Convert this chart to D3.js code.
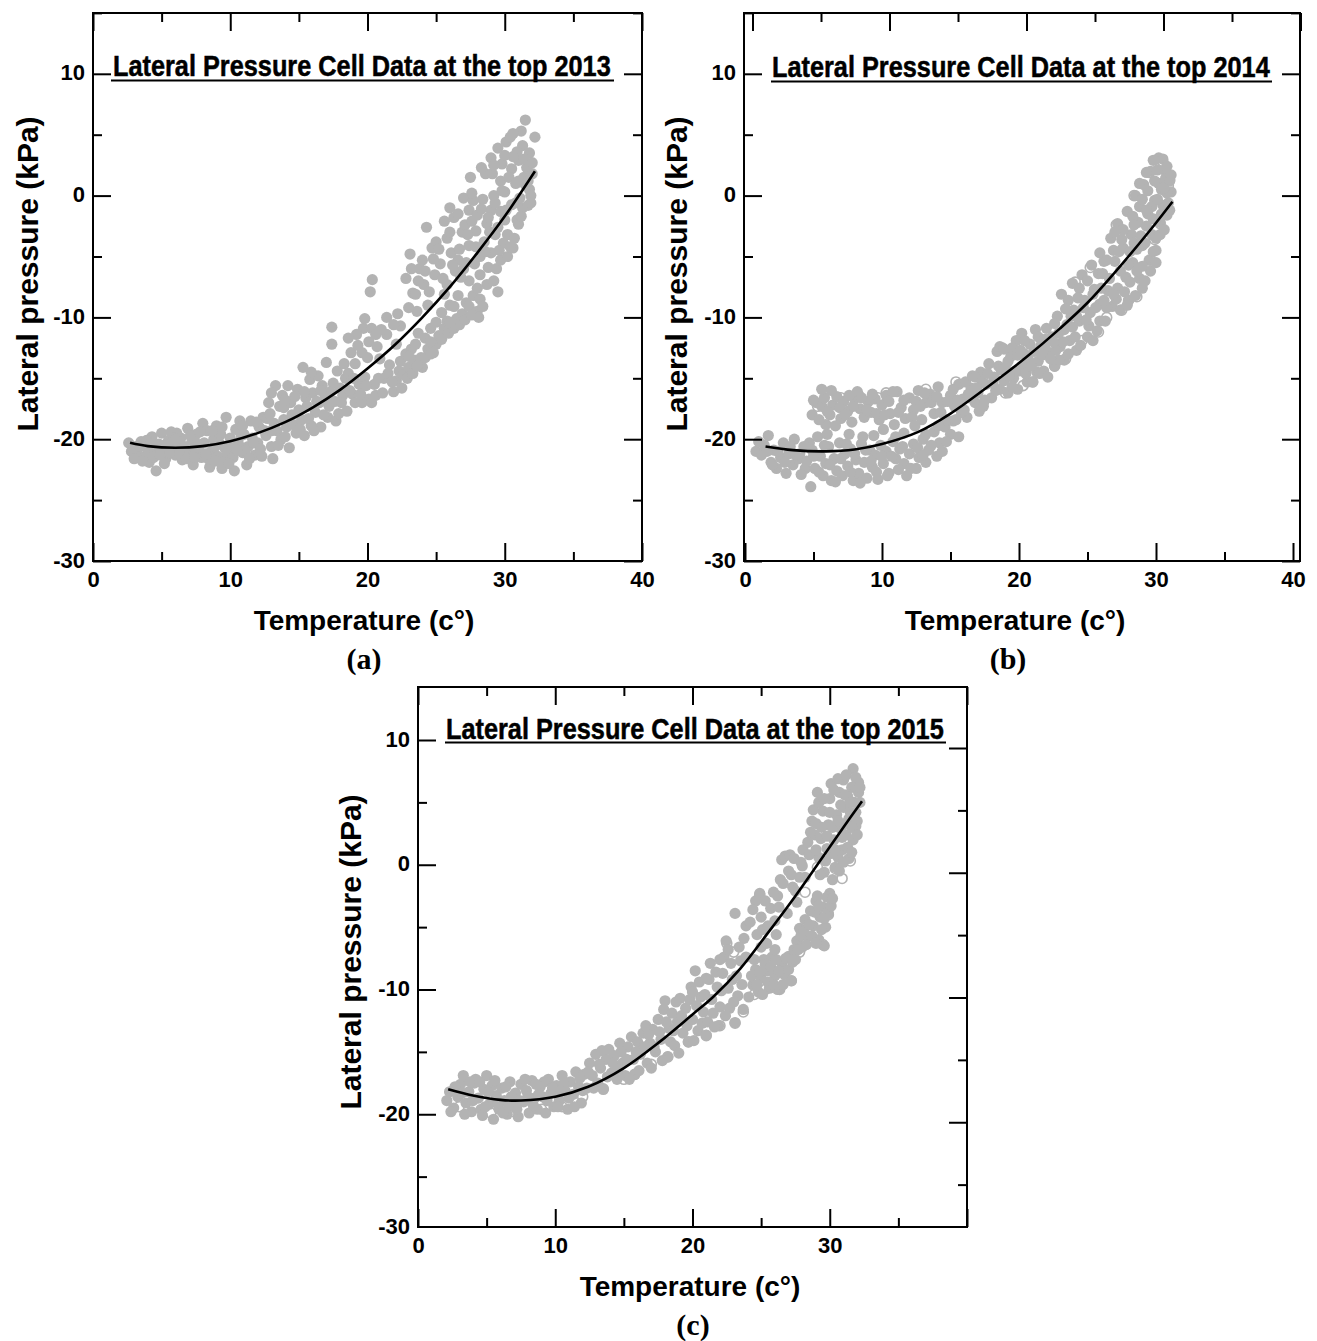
<!DOCTYPE html>
<html><head><meta charset="utf-8">
<script src="https://cdn.jsdelivr.net/npm/d3@7"></script>
<style>
body{margin:0;background:#fff;}
svg{display:block;}
</style></head><body>
<svg id="fig" width="1317" height="1341"></svg>
<script>
// Lateral pressure at the top pressure cell plotted against temperature, 2013–2015.

const xMajor = [0, 10, 20, 30, 40];
const xMinor = [5, 15, 25, 35];
const yMajor = [10, 0, -10, -20, -30];
const yMinor = [15, 5, -5, -15, -25];
const xLabels2013 = [0, 10, 20, 30, 40];
const xLabels2014 = [0, 10, 20, 30, 40];
const xLabels2015 = [0, 10, 20, 30];

const titles = ["Lateral Pressure Cell Data at the top 2013",
                "Lateral Pressure Cell Data at the top 2014",
                "Lateral Pressure Cell Data at the top 2015"];
const panelTags = ["(a)", "(b)", "(c)"];
const xTitle = "Temperature (c°)";
const yTitle = "Lateral pressure (kPa)";

// [temperature °C, lateral pressure kPa]
const pts2013 = [
[2.6,-20.3],[2.8,-21.0],[3.1,-20.6],[3.3,-21.3],[3.5,-20.2],[3.8,-21.4],[4.0,-20.8],[4.1,-21.9],[4.3,-19.8],[4.5,-21.1],
[4.6,-22.6],[4.8,-20.4],[5.0,-19.5],[5.1,-20.9],[5.3,-21.6],[5.5,-20.1],[5.7,-19.4],[5.8,-20.8],[6.0,-21.3],[6.2,-20.4],
[6.4,-19.9],[6.5,-21.7],[6.7,-20.6],[6.9,-19.1],[7.0,-21.1],[7.2,-20.2],[7.3,-22.1],[7.5,-19.6],[7.7,-20.9],[7.9,-21.5],
[8.0,-18.7],[8.1,-20.3],[8.3,-19.3],[8.5,-22.3],[8.6,-21.0],[8.8,-20.0],[9.0,-18.9],[9.1,-21.4],[9.3,-19.6],[9.4,-22.4],
[9.6,-20.7],[9.7,-18.2],[9.8,-21.2],[10.0,-19.9],[10.2,-21.5],[10.3,-22.6],[10.4,-19.2],[10.6,-20.4],[10.7,-18.5],[10.9,-21.1],
[11.0,-19.6],[11.2,-22.1],[11.3,-20.6],[11.5,-18.5],[11.6,-19.9],[11.8,-21.3],[12.0,-20.3],[12.1,-19.0],[12.3,-21.4],[12.4,-18.2],
[3.9,-20.1],[5.4,-20.5],[6.6,-21.0],[7.6,-20.4],[8.4,-21.6],[9.5,-21.9],[10.1,-20.6],[11.1,-20.9],[6.1,-19.5],[4.6,-20.5],
[3.0,-21.6],[3.4,-20.6],[3.6,-21.8],[4.2,-20.4],[4.4,-21.5],[4.9,-21.3],[5.2,-22.0],[5.6,-21.1],[5.9,-19.9],[6.3,-21.2],
[6.8,-21.6],[7.1,-19.7],[7.4,-20.7],[7.8,-19.4],[8.2,-21.2],[8.7,-19.3],[8.9,-21.8],[9.2,-20.3],[9.9,-22.0],[10.5,-20.9],
[10.8,-19.7],[11.4,-21.6],[11.7,-20.3],[12.2,-20.8],[12.5,-19.3],[6.0,-20.0],[8.9,-20.6],[7.4,-21.5],[9.4,-19.0],[10.9,-18.9],
[11.9,-18.6],
[12.6,-19.7],[12.8,-17.0],[13.0,-20.6],[13.1,-21.6],[13.2,-18.7],[13.4,-19.3],[13.6,-17.3],[13.7,-20.0],[13.9,-18.4],[14.1,-19.0],
[14.2,-15.6],[14.3,-20.7],[14.4,-17.0],[14.6,-18.8],[14.8,-19.5],[14.9,-15.9],[15.0,-17.6],[15.2,-18.4],[15.3,-14.1],[15.4,-19.7],
[15.5,-16.6],[15.6,-17.3],[15.8,-15.1],[15.9,-18.9],[16.0,-16.2],[16.2,-17.8],[16.4,-14.8],[16.5,-17.0],[16.6,-19.0],[16.7,-15.6],
[16.9,-16.6],[17.0,-13.7],[17.1,-18.2],[17.2,-17.3],[17.4,-10.8],[17.4,-12.2],[17.5,-15.4],[17.6,-16.9],[13.3,-15.6],[13.8,-16.4],
[12.7,-18.3],[13.0,-19.3],[13.5,-20.5],[13.9,-17.4],[14.0,-19.8],[14.5,-18.0],[14.7,-16.5],[15.1,-19.2],[15.4,-16.1],[15.7,-18.3],
[16.1,-19.3],[16.3,-16.9],[16.8,-18.0],[17.3,-16.1],[17.7,-18.5],[15.9,-14.5],[16.6,-16.0],[13.0,-16.2],[14.0,-16.8],[12.9,-17.9],
[17.8,-14.4],[17.9,-17.9],[18.0,-15.8],[18.2,-16.4],[18.3,-13.8],[18.4,-15.0],[18.5,-17.7],[18.6,-14.6],[18.8,-12.9],[18.9,-16.3],
[19.1,-17.0],[19.1,-13.8],[19.3,-12.3],[19.4,-15.5],[19.6,-17.0],[19.6,-12.9],[19.7,-10.9],[19.8,-10.1],[19.8,-14.9],[20.1,-16.7],
[20.1,-12.0],[20.2,-7.9],[20.35,-6.9],[20.3,-10.9],[20.5,-15.5],[20.6,-16.4],[20.6,-11.4],[20.9,-13.4],[21.2,-15.0],[21.4,-11.4],
[21.4,-10.0],[21.6,-13.9],[21.9,-16.1],[22.1,-15.2],[22.2,-9.7],[22.3,-14.4],[22.4,-10.7],[22.4,-13.6],
[18.1,-17.0],[18.7,-16.0],[19.0,-15.0],[19.5,-16.3],[19.9,-15.6],[20.3,-17.0],[20.8,-15.0],[21.1,-16.2],[21.5,-14.6],[21.8,-15.3],
[19.2,-11.4],[20.7,-12.4],[21.0,-11.0],[21.9,-10.6],[18.6,-11.7],[20.0,-13.3],[22.1,-12.2],
[22.6,-14.7],[22.8,-13.0],[23.0,-14.1],[23.2,-12.6],[23.4,-13.5],[23.5,-12.2],[23.7,-11.3],[23.9,-13.3],[24.0,-14.1],[24.2,-11.7],
[24.4,-12.6],[24.6,-10.9],[24.8,-12.9],[25.0,-10.4],[25.2,-11.5],[25.4,-9.6],[25.6,-10.9],[25.8,-10.3],[26.0,-9.0],[26.3,-9.1],
[26.5,-10.1],[26.9,-9.7],[27.2,-8.8],[27.4,-9.1],[27.7,-8.2],[28.0,-9.5],[28.2,-8.5],[28.4,-9.1],
[22.5,-15.8],[22.9,-15.0],[23.3,-14.6],[23.6,-14.0],[24.2,-13.3],[24.6,-13.0],[25.0,-12.2],[25.4,-11.8],[25.9,-11.3],[26.3,-10.9],
[26.7,-10.6],[27.1,-10.2],[27.6,-9.8],[28.1,-10.0],[26.0,-10.4],[24.6,-12.0],[23.0,-13.2],
[22.8,-6.8],[23.1,-4.8],[23.3,-8.0],[23.5,-8.1],[23.6,-9.5],[23.8,-6.0],[24.0,-5.3],[24.1,-7.3],[24.3,-2.6],[24.5,-7.9],
[24.7,-4.3],[24.9,-6.5],[25.0,-3.8],[25.3,-5.6],[25.6,-2.1],[25.8,-3.5],[25.8,-7.3],[26.1,-4.7],[26.3,-1.8],[26.4,-6.2],
[26.6,-5.3],[26.6,-8.2],[26.9,-3.0],[27.0,-0.2],[27.1,-2.4],[27.4,-4.1],[27.4,-7.0],[27.5,1.5],[27.4,-1.2],[27.8,-5.6],
[27.9,-2.9],[28.0,-1.6],[28.2,-5.0],[28.2,-6.5],[28.4,-0.3],[28.5,-3.8],[28.6,1.8],[28.7,-2.3],[28.7,-7.3],[29.0,3.1],
[29.0,-1.2],[29.0,-4.7],[29.2,0.0],[29.2,-7.0],[29.4,-6.0],[29.5,3.9],[29.5,-2.6],[29.5,-7.9],[29.7,1.2],[29.7,-1.3],
[29.7,-5.3],[29.9,-3.9],[30.0,0.3],[30.1,4.4],[30.2,-3.2],[30.2,-5.0],[30.4,4.8],[30.5,-0.75],[30.5,2.2],[30.6,-4.3],
[30.8,-0.6],[30.9,-2.0],[31.0,2.9],[31.0,1.2],[31.0,-2.35],[31.2,5.3],[31.3,-1.0],[31.3,4.1],[31.4,1.5],[31.5,0.9],
[31.5,6.2],[31.6,2.3],[31.7,-0.8],[31.8,3.5],[31.8,0.5],[31.9,0.0],[32.2,4.8],[32.0,1.8],[30.0,-2.0],[29.3,-3.2],
[28.8,-5.9],[28.0,-7.6],[26.8,-6.7],[30.7,-3.5],[31.2,-1.7],[27.6,-2.1],[29.8,2.6],[30.9,3.6],[30.6,5.1],[26.6,-1.5],
[23.2,-6.0],[23.7,-7.0],[24.2,-6.2],[24.8,-5.2],[25.2,-4.4],[25.5,-6.8],[26.0,-3.0],[26.2,-5.7],[26.7,-4.4],[27.0,-6.0],
[27.3,-3.2],[27.7,-0.4],[27.9,-4.2],[28.3,-1.1],[28.6,-4.6],[28.9,-3.0],[29.1,1.8],[29.3,-0.6],[29.6,-4.5],[29.8,0.4],
[30.1,-1.2],[30.3,1.5],[30.4,-4.2],[30.6,3.2],[30.8,1.0],[31.1,-0.2],[31.4,3.0],[31.7,1.2],[32.0,2.7],[31.9,-0.6],
[30.0,3.3],[29.2,2.5],[28.3,2.3],[28.8,-1.8],[27.2,-5.5],[25.6,-8.1],[24.4,-9.0],[23.0,-9.2],[26.0,-1.0],[27.6,0.2]
];
const fit2013 = [[2.7,-20.3],[4,-20.57],[6,-20.7],[8,-20.57],[10,-20.17],[12,-19.5],[14,-18.6],[16,-17.4],
[18,-15.95],[20,-14.2],[22,-12.25],[24,-10.0],[26,-7.5],[28,-4.7],[30,-1.7],[32.2,2.0]];

const pts2014 = [
[0.8,-21.0],[1.2,-21.3],[1.4,-20.5],[1.7,-19.7],[1.9,-21.9],[2.1,-20.9],[2.3,-22.4],[2.6,-21.5],[2.8,-20.3],[3.0,-22.8],
[3.2,-21.2],[3.5,-22.1],[3.6,-20.0],[3.9,-21.6],
[1.0,-20.2],[1.6,-21.0],[2.0,-22.1],[2.4,-21.0],[2.9,-21.9],[3.3,-20.6],[3.7,-21.3],[4.0,-21.2],[4.4,-22.4],[4.7,-20.3],
[4.1,-22.9],[4.3,-20.6],[4.5,-21.8],[4.8,-23.9],[4.9,-20.9],[5.1,-22.4],[5.3,-19.8],[5.5,-21.4],[5.7,-23.0],[5.9,-22.0],
[6.1,-20.6],[6.3,-23.4],[6.5,-21.6],[6.7,-22.6],[6.9,-20.3],[7.1,-23.0],[7.3,-21.2],[7.5,-22.2],[7.7,-20.8],[7.9,-23.4],
[8.1,-21.7],[8.3,-22.8],[8.5,-20.4],[8.7,-21.9],[8.9,-23.2],[9.1,-20.9],[9.3,-22.3],[9.5,-21.3],[9.7,-23.3],[9.9,-20.5],
[10.1,-22.0],[10.3,-21.0],[10.5,-22.8],[10.8,-20.2],[11.0,-21.6],[11.3,-20.8],[11.6,-22.0],[12.0,-21.2],[12.3,-20.4],[12.7,-21.5],
[13.0,-20.0],[13.4,-20.9],[13.8,-19.4],[14.2,-20.3],[14.6,-19.0],[15.0,-19.6],[15.2,-18.5],
[12.5,-22.4],[11.8,-23.0],[13.2,-21.9],[14.0,-21.4],[14.7,-20.2],
[5.0,-21.4],[5.4,-22.7],[5.8,-20.5],[6.2,-22.1],[6.6,-23.5],[7.0,-21.6],[7.4,-20.4],[7.7,-22.7],[8.0,-21.2],[8.4,-23.6],
[8.8,-20.9],[9.2,-21.8],[9.6,-22.7],[10.0,-21.4],[10.4,-23.0],[10.7,-21.4],[11.2,-22.5],[11.5,-20.6],[12.1,-22.4],[12.6,-20.7],
[13.0,-21.3],[13.6,-20.5],[14.4,-21.0],[8.6,-19.8],[7.6,-19.6],[6.0,-19.6],[11.0,-19.8],[9.4,-19.7],
[4.9,-18.0],[5.2,-17.0],[5.6,-17.3],[5.9,-18.8],[6.2,-18.0],[6.4,-17.2],[6.7,-16.5],[7.0,-18.3],[7.2,-16.9],[7.5,-17.7],
[7.8,-18.6],[8.0,-16.7],[8.2,-16.1],[8.4,-17.5],[8.7,-18.2],[9.0,-16.9],[9.2,-17.8],[9.5,-16.7],[9.8,-18.4],[10.0,-17.2],
[10.3,-16.4],[10.6,-17.9],[10.9,-18.8],[11.1,-16.1],[11.4,-17.4],[11.7,-18.3],[12.0,-16.6],[12.3,-17.6],[12.65,-16.0],[12.9,-18.4],
[13.2,-17.0],[13.5,-16.3],[13.8,-17.9],[14.1,-15.7],[14.4,-17.0],[14.7,-18.4],[15.0,-16.4],[15.3,-17.3],[15.6,-15.5],[15.9,-16.7],
[16.2,-18.2],[16.5,-15.8],[16.8,-17.0],
[5.0,-16.8],[5.4,-18.4],[5.8,-16.6],[6.0,-17.7],[6.6,-18.9],[6.9,-17.4],[7.3,-18.0],[7.6,-16.4],[7.9,-17.3],[8.5,-16.6],
[8.9,-17.6],[9.3,-16.3],[9.6,-17.9],[10.2,-18.0],[10.5,-16.9],[10.8,-16.1],[11.2,-17.8],[11.6,-16.8],[12.2,-18.2],[12.5,-16.9],
[12.8,-17.3],[13.1,-16.2],[13.6,-17.0],[14.0,-16.5],[14.3,-17.8],[14.8,-16.9],[15.2,-15.9],[15.5,-16.8],[15.8,-17.8],[16.1,-15.3],
[16.7,-16.4],[5.6,-15.9],[6.3,-16.0],
[10.1,-19.2],[11.6,-19.5],[12.4,-18.9],[13.2,-19.6],[14.1,-18.9],[15.4,-18.4],[15.6,-19.8],
[17.0,-16.2],[17.2,-14.5],[17.4,-17.3],[17.6,-15.5],[17.8,-13.8],[18.0,-16.6],[18.2,-14.9],[18.4,-12.8],[18.6,-15.9],[18.8,-12.5],
[19.0,-14.1],[19.2,-16.2],[19.4,-13.2],[19.6,-15.0],[19.8,-11.9],[20.0,-14.4],[20.2,-11.3],[20.4,-13.0],[20.6,-15.3],[20.8,-12.2],
[16.4,-16.6],[16.6,-14.8],[18.6,-12.4],[18.9,-12.6],
[16.0,-17.6],[16.8,-14.9],[17.1,-17.7],[17.3,-15.3],[17.7,-14.6],[18.3,-16.0],[18.5,-14.0],[18.9,-15.2],[19.2,-13.6],[19.7,-14.4],
[19.9,-15.9],[20.3,-14.0],[20.7,-13.5],[21.3,-14.5],[20.4,-11.9],[19.5,-12.5],
[21.0,-15.3],[21.2,-11.0],[21.4,-13.6],[21.6,-12.3],[21.8,-14.4],[22.0,-10.9],[22.2,-12.9],[22.4,-11.6],[22.6,-14.0],[22.8,-9.9],
[23.0,-12.4],[23.1,-8.1],[23.3,-13.5],[23.5,-10.6],[23.7,-11.9],[23.9,-7.2],[24.0,-9.4],[24.2,-12.7],[24.4,-10.3],[24.6,-6.5],
[24.8,-8.6],[25.0,-11.6],[25.2,-9.6],[25.3,-5.7],[25.5,-7.7],[25.7,-11.1],[25.9,-4.7],[25.9,-8.9],
[21.5,-14.6],[21.9,-12.5],[22.1,-14.9],[22.7,-12.7],[22.9,-13.5],[23.2,-12.0],[23.6,-13.0],[23.8,-9.9],[24.1,-11.6],[24.5,-12.3],
[24.7,-9.2],[25.1,-10.7],[25.4,-11.9],[25.6,-9.2],[25.8,-6.4],[24.4,-7.6],[23.6,-8.6],[22.6,-10.5],[21.4,-11.6],[25.9,-10.3],
[26.1,-6.4],[26.3,-10.3],[26.5,-7.8],[26.7,-3.5],[26.8,-9.1],[27.0,-5.4],[27.2,-2.3],[27.2,-7.6],[27.4,-9.4],[27.6,-4.3],
[27.8,-6.7],[27.9,-1.3],[28.0,-8.6],[28.2,-3.2],[28.3,-5.5],[28.5,0.0],[28.5,-8.2],[28.7,-2.2],[28.8,-6.8],[29.0,-4.1],
[29.1,0.9],[29.2,-7.0],[29.4,-1.5],[29.5,-5.3],[29.6,2.0],[29.7,-3.2],[29.9,-0.4],[30.0,-4.5],[30.0,-3.5],[30.2,3.1],
[30.2,1.0],[30.3,-2.2],[30.5,-0.8],[30.6,2.1],[30.7,1.4],[30.8,-1.6],[30.9,-0.6],[31.0,1.2],[31.1,0.3],[30.4,-1.5],
[29.3,-2.5],[29.8,2.9],[30.5,3.0],[29.3,1.9],[28.8,1.0],
[26.2,-5.4],[26.4,-9.2],[26.6,-6.8],[26.9,-4.5],[27.1,-8.5],[27.4,-6.2],[27.6,-2.8],[27.9,-9.0],[28.1,-7.1],[28.3,-1.7],
[28.6,-4.4],[28.8,-0.9],[29.0,-7.6],[29.2,-3.9],[29.4,0.4],[29.6,-6.2],[29.7,-0.9],[29.9,1.2],[30.0,-5.5],[30.1,2.1],
[30.3,-3.2],[30.4,0.5],[30.6,-2.8],[30.8,0.2],[31.0,-1.2],[31.1,1.7],[30.8,2.4],[28.0,-5.7],[28.4,-3.9],[27.0,-3.0],
[29.0,-0.3],[29.8,-4.6],
[18.1,-15.4],[18.7,-14.3],[19.3,-14.8],[19.9,-13.1],[20.5,-14.6],[21.1,-12.8],[21.7,-13.1],[22.3,-13.4],[22.9,-11.3],[23.4,-9.3],
[23.9,-10.8],[24.3,-8.4],[24.9,-10.2],[25.4,-8.1],[26.0,-7.6],[26.4,-5.3],[26.9,-8.1],[27.3,-4.6],[27.7,-7.9],[28.1,-4.6],
[28.4,-2.4],[28.9,-3.3],[29.3,-1.2],[29.8,-1.9],[30.1,-0.3],[30.6,0.6],[29.0,-5.8],[28.6,-6.2],[27.5,-3.6],[26.2,-8.6],
[25.0,-7.0],[24.2,-9.9],[23.3,-11.0],[22.5,-12.0],[21.9,-11.8],[20.9,-14.0],[20.1,-12.7],[19.5,-15.7],[17.5,-16.8],[16.9,-15.8],
[16.3,-16.3]
];
const open2014 = [
[30.2,3.0],[30.5,2.8],[31.0,1.3],[30.9,0.8],[30.3,-2.3],[29.9,-3.6],[29.6,-5.3],[28.6,-8.3],[28.0,-8.6],[27.5,-9.4],
[26.4,-10.0],[25.8,-11.2],[24.6,-11.9],[23.4,-13.4],[22.6,-14.0],[21.0,-15.3],[20.3,-15.6],[19.0,-16.2],[7.0,-16.6],[8.3,-16.4],
[9.7,-16.6],[10.3,-16.2],[5.3,-17.3],[24.1,-7.1],[25.2,-5.9],[27.1,-2.4],[28.4,0.0],[29.5,1.9],[13.2,-15.9],[15.4,-15.3]
];
const fit2014 = [[1.5,-20.6],[3.5,-20.9],[5.9,-21.0],[8,-20.85],[10,-20.4],[12.65,-19.4],[15,-17.9],[17.9,-15.55],
[20.5,-13.3],[23,-10.9],[25,-8.8],[27,-6.3],[29.6,-2.8],[31.2,-0.5]];

const pts2015 = [
[2.1,-18.9],[2.3,-18.2],[2.6,-19.5],[2.9,-18.6],[3.1,-17.6],[3.3,-16.9],[3.5,-19.1],[3.7,-18.2],[3.9,-19.8],[4.1,-17.5],
[4.2,-17.2],[4.4,-18.7],[4.6,-19.6],[4.8,-18.0],[5.0,-16.9],[5.2,-19.2],[5.4,-17.7],[5.5,-20.4],[5.7,-18.5],[5.9,-19.6],
[6.1,-17.9],[6.3,-18.9],[6.5,-20.0],[6.7,-17.4],[6.9,-19.3],[7.1,-18.3],[7.3,-20.2],[7.5,-17.6],[7.7,-19.0],[7.9,-18.1],
[8.1,-19.9],[8.3,-17.3],[8.5,-18.7],[8.7,-19.6],[8.9,-17.8],[9.1,-18.6],[9.3,-19.9],[9.5,-17.2],[9.7,-18.3],[9.9,-19.4],
[10.1,-17.7],[10.3,-18.9],[10.5,-16.9],[10.7,-18.1],[10.9,-19.6],[11.1,-17.4],[11.3,-18.4],[11.5,-16.6],[11.7,-17.8],[11.9,-19.1],
[12.1,-16.8],
[2.4,-19.8],[2.7,-17.8],[3.2,-18.3],[3.4,-20.0],[3.8,-17.4],[4.0,-18.9],[4.5,-17.4],[4.7,-20.1],[5.1,-18.2],[5.6,-17.3],
[5.8,-19.1],[6.2,-19.9],[6.4,-17.8],[6.8,-18.6],[7.2,-19.6],[7.4,-18.9],[7.8,-17.2],[8.0,-18.6],[8.4,-19.3],[8.8,-18.4],
[9.2,-17.4],[9.4,-18.9],[9.8,-17.9],[10.2,-19.4],[10.6,-17.6],[11.0,-18.7],[11.4,-19.4],[11.8,-17.1],[12.0,-18.1],[4.9,-19.4],
[6.6,-19.3],[8.6,-17.6],[10.4,-18.2],
[12.3,-17.9],[12.5,-15.9],[12.7,-16.9],[12.95,-15.2],[13.1,-17.5],[13.3,-16.3],[13.5,-17.95],[13.7,-15.6],[13.9,-14.8],[14.1,-16.7],
[14.3,-15.3],[14.5,-17.2],[14.7,-14.3],[14.9,-15.9],[15.1,-16.9],[15.3,-14.6],[15.55,-13.8],[15.7,-15.6],[15.8,-16.8],[16.0,-14.2],
[16.2,-15.2],[16.4,-13.5],[16.6,-12.9],[16.7,-15.9],[16.9,-14.3],[17.1,-13.2],[17.3,-15.0],[17.5,-12.4],[17.7,-14.0],[17.9,-11.6],
[18.0,-10.9],[18.2,-15.4],[18.3,-13.1],
[12.4,-16.6],[12.8,-17.9],[13.2,-16.0],[13.4,-14.9],[13.8,-17.0],[14.2,-15.9],[14.6,-16.4],[14.8,-15.0],[15.2,-15.6],[15.4,-17.2],
[15.9,-15.0],[16.1,-16.5],[16.5,-14.6],[16.8,-13.6],[17.0,-16.3],[17.2,-14.6],[17.6,-13.4],[17.8,-15.7],[18.1,-12.6],[18.4,-14.2],
[18.5,-11.9],[18.7,-14.5],[18.9,-12.6],[19.1,-10.7],[19.3,-13.5],[19.5,-11.5],[19.7,-14.2],[19.9,-9.8],[20.0,-12.4],[20.2,-8.5],
[20.4,-13.3],[20.6,-10.6],[20.8,-11.8],[21.0,-13.65],[21.2,-9.2],[21.3,-7.9],[21.5,-11.9],[21.7,-8.6],[21.9,-12.9],[22.1,-10.1],
[22.3,-7.4],[22.45,-6.1],[22.6,-6.8],[22.7,-11.5],[22.9,-9.2],[23.1,-3.9],[23.1,-12.65],[23.3,-10.5],[23.5,-7.7],[23.75,-5.9],
[23.7,-11.6],
[18.6,-13.3],[18.8,-11.0],[19.0,-15.1],[19.2,-12.1],[19.6,-12.9],[19.8,-10.8],[20.1,-14.1],[20.3,-11.3],[20.5,-9.4],[20.7,-12.7],
[20.9,-10.4],[21.1,-12.6],[21.4,-10.8],[21.6,-13.0],[21.8,-9.8],[22.0,-11.4],[22.2,-8.7],[22.4,-12.1],[22.6,-9.9],[22.8,-7.9],
[23.0,-11.0],[23.2,-8.9],[23.4,-6.6],[23.6,-9.6],[23.9,-7.4],[23.9,-4.9],[22.0,-7.6],[21.0,-9.1],[20.0,-10.2],
[24.1,-10.6],[24.4,-9.65],[24.6,-8.4],[24.8,-10.2],[25.0,-9.1],[25.2,-7.6],[25.45,-8.5],[25.6,-9.9],[25.8,-7.4],[26.0,-8.9],
[26.2,-10.0],[26.35,-9.95],[26.5,-7.9],[26.7,-8.8],[27.0,-7.35],[27.2,-9.3],[27.4,-6.8],
[24.3,-8.9],[24.5,-7.6],[24.7,-9.6],[24.9,-8.6],[25.1,-10.4],[25.3,-8.0],[25.5,-9.4],[25.7,-8.2],[25.9,-9.6],[26.1,-7.6],
[26.3,-8.5],[26.6,-9.6],[26.8,-7.5],[27.0,-8.4],[27.3,-7.8],[27.5,-7.6],[25.0,-6.6],[26.0,-6.8],
[24.2,-4.6],[24.6,-2.9],[24.9,-2.3],[25.1,-5.2],[25.4,-6.3],[25.7,-3.5],[26.0,-4.5],[26.2,-2.5],[26.5,0.4],[26.75,0.7],
[27.0,-0.5],[27.3,-1.8],[27.6,-3.0],[27.9,0.2],[28.05,1.2],[28.2,-1.0],[27.1,0.8],[26.4,-1.2],
[24.4,-3.6],[24.7,-5.6],[25.0,-4.2],[25.3,-2.9],[25.5,-4.9],[25.9,-2.2],[26.1,-5.6],[26.3,-3.4],[26.6,-1.5],[26.9,-3.9],
[27.2,-0.8],[27.5,-2.1],[27.8,-1.0],[28.0,-0.1],[27.4,0.5],
[27.6,-6.1],[27.8,-5.1],[28.0,-6.6],[28.2,-4.4],[28.4,-5.7],[28.6,-3.7],[28.8,-4.9],[29.0,-2.9],[29.1,-2.5],[29.3,-4.2],
[29.5,-3.4],[29.7,-5.0],[29.9,-3.9],[30.0,-2.3],[29.2,-6.0],[29.6,-6.5],
[27.7,-6.8],[27.9,-5.7],[28.1,-5.3],[28.3,-6.4],[28.5,-4.8],[28.7,-5.7],[28.9,-3.8],[29.0,-6.3],[29.2,-3.3],[29.4,-5.2],
[29.6,-4.3],[29.8,-2.6],[30.1,-3.3],[30.2,-2.7],
[28.4,1.8],[28.7,3.5],[28.9,2.4],[29.1,5.8],[29.2,0.6],[29.35,2.1],[29.5,4.3],[29.6,-0.6],[29.8,1.3],[29.9,3.2],
[30.0,5.3],[30.1,6.5],[30.2,-1.2],[30.3,2.0],[30.4,-0.2],[30.5,4.0],[30.6,0.6],[30.7,5.8],[30.8,2.9],[30.9,1.2],
[31.0,6.8],[31.0,4.6],[31.1,3.3],[31.2,2.4],[31.3,5.5],[31.4,0.5],[31.5,4.2],[31.6,6.2],[31.7,7.7],[31.7,2.0],
[31.8,5.0],[31.9,3.1],[32.0,3.5],[32.1,5.8],[32.1,6.6],
[28.5,0.8],[28.6,2.6],[28.8,4.4],[29.0,1.2],[29.0,3.3],[29.2,5.0],[29.3,-0.8],[29.4,3.0],[29.6,5.3],[29.7,0.3],
[29.8,2.3],[30.0,4.2],[30.1,0.9],[30.2,3.0],[30.3,6.0],[30.4,1.2],[30.6,3.5],[30.6,6.9],[30.7,-0.5],[30.8,4.8],
[30.9,2.2],[31.0,0.2],[31.1,5.6],[31.2,7.2],[31.3,1.4],[31.4,3.7],[31.5,5.0],[31.6,1.0],[31.6,3.0],[31.8,6.3],
[31.9,4.2],[32.0,2.4],[32.2,5.0],[31.9,7.0],[32.2,6.2]
];
const open2015 = [
[3.0,-19.4],[5.3,-19.9],[7.0,-19.8],[9.0,-19.6],[10.5,-19.4],[12.0,-18.6],[13.5,-18.0],[15.0,-17.2],[15.8,-16.8],[17.0,-16.0],
[18.2,-15.4],[19.7,-14.2],[21.0,-13.7],[22.0,-12.9],[23.1,-12.7],[23.7,-11.8],[24.5,-10.4],[25.3,-10.0],[26.35,-10.0],[27.2,-9.3],
[27.8,-7.0],[28.6,-6.1],[29.5,-6.4],[29.9,-4.0],[30.4,-0.3],[30.9,-1.1],[31.5,0.3],[23.0,-7.0],[22.5,-6.3],[24.9,-2.4],
[28.2,-2.2],[29.1,-0.2]
];
const fit2015 = [[2.2,-18.0],[4,-18.5],[6,-18.85],[7.5,-18.9],[10,-18.6],[12.4,-17.8],[15,-16.3],[17.6,-14.2],
[20,-12.0],[21.5,-10.6],[23.5,-8.3],[25.4,-5.6],[27.5,-2.5],[29.35,0.4],[31,3.0],[32.35,5.1]];

const panels = [
  {filled: pts2013, open: [], fit: fit2013, xLab: xLabels2013, title: titles[0], tag: panelTags[0],
   frame: {l: 93, t: 13, r: 642, b: 561}, xr: [93, 642], yr: [561, 73.8], topShift: 0, rightShift: 0,
   titleX: [113, 611], titleBase: 75.5, ulY: 80.5, ulX: [111, 614],
   xTitleX: 364, xTitleY: 630, yTitleX: 27, yTitleY: 274, tagX: 364, tagY: 669},
  {filled: pts2014, open: open2014, fit: fit2014, xLab: xLabels2014, title: titles[1], tag: panelTags[1],
   frame: {l: 744, t: 13, r: 1300, b: 561}, xr: [745, 1293], yr: [561, 73.8], topShift: 7.5, rightShift: 0,
   titleX: [772, 1270], titleBase: 76.5, ulY: 81.5, ulX: [771, 1272],
   xTitleX: 1015, xTitleY: 630, yTitleX: 676, yTitleY: 274, tagX: 1008, tagY: 669},
  {filled: pts2015, open: open2015, fit: fit2015, xLab: xLabels2015, title: titles[2], tag: panelTags[2],
   frame: {l: 418, t: 687, r: 967, b: 1227}, xr: [418, 967], yr: [1239, 740], topShift: 0, rightShift: 8,
   titleX: [446, 944], titleBase: 739, ulY: 742.5, ulX: [445, 946],
   xTitleX: 690, xTitleY: 1296, yTitleX: 350, yTitleY: 952, tagX: 693, tagY: 1335}
];

const svg = d3.select("#fig");
svg.append("rect").attr("width", 1317).attr("height", 1341).attr("fill", "#fff");

const GREY = "#b3b3b3";
const SANS = "'Liberation Sans', Arial, Helvetica, sans-serif";
const NARROW = "'Liberation Sans Narrow', 'Arial Narrow', 'Liberation Sans', sans-serif";
const SERIF = "'Liberation Serif', 'Times New Roman', serif";

function styleAxis(sel) {
  sel.select(".domain").remove();
  sel.selectAll(".tick line").attr("stroke", "#000").attr("stroke-width", 2);
  sel.selectAll(".tick text").attr("fill", "#000")
    .style("font-family", SANS).style("font-weight", "bold").style("font-size", "22px");
}

panels.forEach(p => {
  const f = p.frame;
  const g = svg.append("g");
  const x = d3.scaleLinear().domain([0, 40]).range(p.xr);
  const y = d3.scaleLinear().domain([-30, 10]).range(p.yr);
  const xTop = x.copy().range(p.xr.map(v => v + p.topShift));
  const yRight = y.copy().range(p.yr.map(v => v + p.rightShift));

  const inX = s => v => s(v) >= f.l - 0.5 && s(v) <= f.r + 0.5;
  const inY = s => v => s(v) >= f.t - 0.5 && s(v) <= f.b + 0.5;

  // scatter: open markers underneath, filled markers on top
  g.append("g").selectAll("circle").data(p.open).join("circle")
    .attr("cx", d => x(d[0])).attr("cy", d => y(d[1])).attr("r", 5)
    .attr("fill", "#fff").attr("stroke", GREY).attr("stroke-width", 1.6);
  g.append("g").selectAll("circle").data(p.filled).join("circle")
    .attr("cx", d => x(d[0])).attr("cy", d => y(d[1])).attr("r", 5.6)
    .attr("fill", GREY);

  // fitted trend
  g.append("path").datum(p.fit)
    .attr("d", d3.line().x(d => x(d[0])).y(d => y(d[1])).curve(d3.curveCatmullRom.alpha(0.5)))
    .attr("fill", "none").attr("stroke", "#000").attr("stroke-width", 2.6);

  // bottom axis (major with labels, minor)
  g.append("g").attr("transform", `translate(0,${f.b})`)
    .call(d3.axisBottom(x).tickValues(xMajor.filter(inX(x))).tickSize(-18).tickPadding(10)
      .tickFormat(d => p.xLab.includes(d) ? String(d) : ""))
    .call(styleAxis);
  g.append("g").attr("transform", `translate(0,${f.b})`)
    .call(d3.axisBottom(x).tickValues(xMinor.filter(inX(x))).tickSize(-9).tickFormat(""))
    .call(styleAxis);
  // top axis
  g.append("g").attr("transform", `translate(0,${f.t})`)
    .call(d3.axisTop(xTop).tickValues(xMajor.filter(inX(xTop))).tickSize(-18).tickFormat(""))
    .call(styleAxis);
  g.append("g").attr("transform", `translate(0,${f.t})`)
    .call(d3.axisTop(xTop).tickValues(xMinor.filter(inX(xTop))).tickSize(-9).tickFormat(""))
    .call(styleAxis);
  // left axis
  g.append("g").attr("transform", `translate(${f.l},0)`)
    .call(d3.axisLeft(y).tickValues(yMajor.filter(inY(y))).tickSize(-18).tickFormat(""))
    .call(styleAxis);
  g.append("g").attr("transform", `translate(${f.l},0)`)
    .call(d3.axisLeft(y).tickValues(yMinor.filter(inY(y))).tickSize(-9).tickFormat(""))
    .call(styleAxis);
  // right axis
  g.append("g").attr("transform", `translate(${f.r},0)`)
    .call(d3.axisRight(yRight).tickValues(yMajor.filter(inY(yRight))).tickSize(-18).tickFormat(""))
    .call(styleAxis);
  g.append("g").attr("transform", `translate(${f.r},0)`)
    .call(d3.axisRight(yRight).tickValues(yMinor.filter(inY(yRight))).tickSize(-9).tickFormat(""))
    .call(styleAxis);

  // y tick labels (lowest one sits at the bottom corner)
  g.append("g").selectAll("text").data(yMajor).join("text")
    .attr("x", f.l - 8).attr("y", d => Math.min(y(d), f.b) - 1)
    .attr("text-anchor", "end").attr("dominant-baseline", "central")
    .style("font-family", SANS).style("font-weight", "bold").style("font-size", "22px")
    .text(d => String(d));

  // frame
  g.append("rect").attr("x", f.l).attr("y", f.t).attr("width", f.r - f.l).attr("height", f.b - f.t)
    .attr("fill", "none").attr("stroke", "#000").attr("stroke-width", 2);

  // underlined, condensed title
  const tw = p.titleX[1] - p.titleX[0];
  const tt = g.append("text")
    .style("font-family", NARROW).style("font-weight", "bold").style("font-size", "29px")
    .attr("stroke", "#000").attr("stroke-width", 0.5)
    .text(p.title);
  const natural = tt.node().getComputedTextLength() || tw;
  tt.attr("transform", `translate(${p.titleX[0]},${p.titleBase}) scale(${tw / natural},1)`);
  g.append("line").attr("x1", p.ulX[0]).attr("x2", p.ulX[1]).attr("y1", p.ulY).attr("y2", p.ulY)
    .attr("stroke", "#000").attr("stroke-width", 2);

  // axis titles
  g.append("text").attr("x", p.xTitleX).attr("y", p.xTitleY).attr("text-anchor", "middle")
    .style("font-family", SANS).style("font-weight", "bold").style("font-size", "28px")
    .text(xTitle);
  g.append("text").attr("transform", `translate(${p.yTitleX},${p.yTitleY}) rotate(-90)`)
    .attr("text-anchor", "middle").attr("dominant-baseline", "central")
    .style("font-family", SANS).style("font-weight", "bold").style("font-size", "30px")
    .text(yTitle);

  // panel tag
  g.append("text").attr("x", p.tagX).attr("y", p.tagY).attr("text-anchor", "middle")
    .style("font-family", SERIF).style("font-weight", "bold").style("font-size", "30px")
    .text(p.tag);
});
</script>
</body></html>
